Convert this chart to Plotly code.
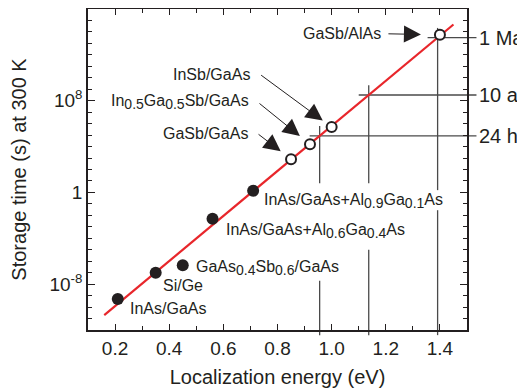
import math
import plotly.graph_objects as go

# ---------------- data ----------------
filled_energy = [0.21, 0.35, 0.45, 0.56, 0.71]
filled_log_time = [-9.3, -7.0, -6.35, -2.3, 0.15]


def sub(s):
    return "<sub><span style='font-size:14px'>" + s + "</span></sub>"


filled_labels = [
    "InAs/GaAs",
    "Si/Ge",
    "GaAs" + sub("0.4") + "Sb" + sub("0.6") + "/GaAs",
    "InAs/GaAs+Al" + sub("0.6") + "Ga" + sub("0.4") + "As",
    "InAs/GaAs+Al" + sub("0.9") + "Ga" + sub("0.1") + "As",
]

open_energy = [0.85, 0.92, 1.00, 1.40]
open_log_time = [2.9, 4.2, 5.7, 13.75]
open_labels = [
    "GaSb/GaAs",
    "In" + sub("0.5") + "Ga" + sub("0.5") + "Sb/GaAs",
    "InSb/GaAs",
    "GaSb/AlAs",
]

fit_energy = [0.16, 1.45]
fit_log_time = [-10.7, 14.65]

ref_labels = ["24 h", "10 a", "1 Ma"]
ref_seconds = [86400.0, 3.156e8, 3.156e13]

x_tick_vals = [0.2, 0.4, 0.6, 0.8, 1.0, 1.2, 1.4]
x_tick_text = ["0.2", "0.4", "0.6", "0.8", "1.0", "1.2", "1.4"]
y_tick_vals = [1e-8, 1.0, 1e8]
y_tick_text = ["10<sup>-8</sup>", "1", "10<sup>8</sup>"]

# ---------------- styling ----------------
FONT = "Liberation Sans, Arial, Helvetica, sans-serif"
INK = "#231f20"
REF = "#4a4a4a"
RED = "#e8262b"
X_RANGE = (0.1, 1.5)
Y_RANGE = (-12, 16)


def ypaper(logv):
    return (logv - Y_RANGE[0]) / (Y_RANGE[1] - Y_RANGE[0])


def xpaper(e):
    return (e - X_RANGE[0]) / (X_RANGE[1] - X_RANGE[0])


def fit_energy_at(logt):
    e0, e1 = fit_energy
    l0, l1 = fit_log_time
    return e0 + (logt - l0) * (e1 - e0) / (l1 - l0)


fig = go.Figure()

fig.add_trace(go.Scatter(
    x=fit_energy, y=[10 ** v for v in fit_log_time], mode="lines",
    line=dict(color=RED, width=2.2), hoverinfo="skip"))

fig.add_trace(go.Scatter(
    x=filled_energy, y=[10 ** v for v in filled_log_time], mode="markers",
    marker=dict(size=12, color=INK, line=dict(width=0)), cliponaxis=False))

fig.add_trace(go.Scatter(
    x=open_energy, y=[10 ** v for v in open_log_time], mode="markers",
    marker=dict(size=10, color="white", line=dict(width=2, color=INK)),
    cliponaxis=False))

shapes = []
annotations = []

# reference cross-hairs: horizontal line to right-side label, vertical line down to axis
gaps = [(0.8, -7.7), (0.8, -5.0), (0.2, -1.55)]  # breaks in the vertical lines (log units)
for lab, sec, gap in zip(ref_labels, ref_seconds, gaps):
    lt = math.log10(sec)
    ec = fit_energy_at(lt)
    shapes.append(dict(type="line", xref="paper", yref="y",
                       x0=xpaper(ec - 0.037), x1=1.025, y0=sec, y1=sec,
                       line=dict(color=REF, width=1.3), layer="below"))
    shapes.append(dict(type="line", xref="x", yref="paper",
                       x0=ec, x1=ec, y0=ypaper(lt + 0.85), y1=ypaper(gap[0]),
                       line=dict(color=REF, width=1.3), layer="below"))
    shapes.append(dict(type="line", xref="x", yref="paper",
                       x0=ec, x1=ec, y0=ypaper(gap[1]), y1=-0.016,
                       line=dict(color=REF, width=1.3), layer="below"))
    annotations.append(dict(xref="paper", yref="y", x=1.026, y=lt, text=lab,
                            showarrow=False, xanchor="left", yanchor="middle",
                            font=dict(size=20, color=INK, family=FONT)))

# labels of filled points (to the right / below of each marker)
filled_shift = [(10, -9), (5, -13), (11, -3), (11, -12), (9, -10)]
for e, lt, lab, (dx, dy) in zip(filled_energy, filled_log_time, filled_labels, filled_shift):
    annotations.append(dict(x=e, y=lt, text=lab, showarrow=False,
                            xanchor="left", yanchor="middle", xshift=dx, yshift=dy,
                            font=dict(size=16, color=INK, family=FONT)))

# labels of open points (to the upper left, with arrows)
open_text_shift = [(-41, 26), (-59, 42), (-80, 53), (-57, 1)]
open_arrow = [(-34, -26, 13), (-52, -42, 13), (-72, -53, 11), (-53, -1, 19)]
for e, lt, lab, (dx, dy), (ax, ay, so) in zip(open_energy, open_log_time, open_labels,
                                              open_text_shift, open_arrow):
    annotations.append(dict(x=e, y=lt, text=lab, showarrow=False,
                            xanchor="right", yanchor="middle", xshift=dx, yshift=dy,
                            font=dict(size=16, color=INK, family=FONT)))
    annotations.append(dict(x=e, y=lt, text="", showarrow=True, ax=ax, ay=ay,
                            standoff=so, arrowhead=2, arrowsize=3.4, arrowwidth=1,
                            arrowcolor=INK))

axis_common = dict(
    showline=True, linecolor=INK, linewidth=1.5, mirror="allticks",
    ticks="inside", tickcolor=INK, tickwidth=1.2, showgrid=False, zeroline=False,
    automargin=False,
    tickfont=dict(size=19, color=INK, family=FONT),
)

# the page body adds an 8 px offset, so margins are set to land the plot
# area where the reference has it
fig.update_layout(
    width=525, height=392,
    margin=dict(l=80, r=66, t=1, b=70, autoexpand=False),
    paper_bgcolor="white", plot_bgcolor="white",
    showlegend=False,
    shapes=shapes, annotations=annotations,
    font=dict(family=FONT, color=INK),
    xaxis=dict(
        range=list(X_RANGE), tickvals=x_tick_vals, ticktext=x_tick_text, ticklen=6,
        minor=dict(dtick=0.1, tick0=0.1, ticks="inside", ticklen=4, tickcolor=INK, tickwidth=1.2),
        title=dict(text="Localization energy (eV)", font=dict(size=20, color=INK, family=FONT),
                   standoff=12),
        **axis_common),
    yaxis=dict(
        type="log", range=list(Y_RANGE), tickvals=y_tick_vals, ticktext=y_tick_text, ticklen=7,
        minor=dict(tickvals=[10.0 ** k for k in range(-12, 17)], ticks="inside", ticklen=4,
                   tickcolor=INK, tickwidth=1.2),
        title=dict(text="Storage time (s) at 300 K", font=dict(size=20, color=INK, family=FONT),
                   standoff=20),
        **axis_common),
)

fig.write_html("out.html")
